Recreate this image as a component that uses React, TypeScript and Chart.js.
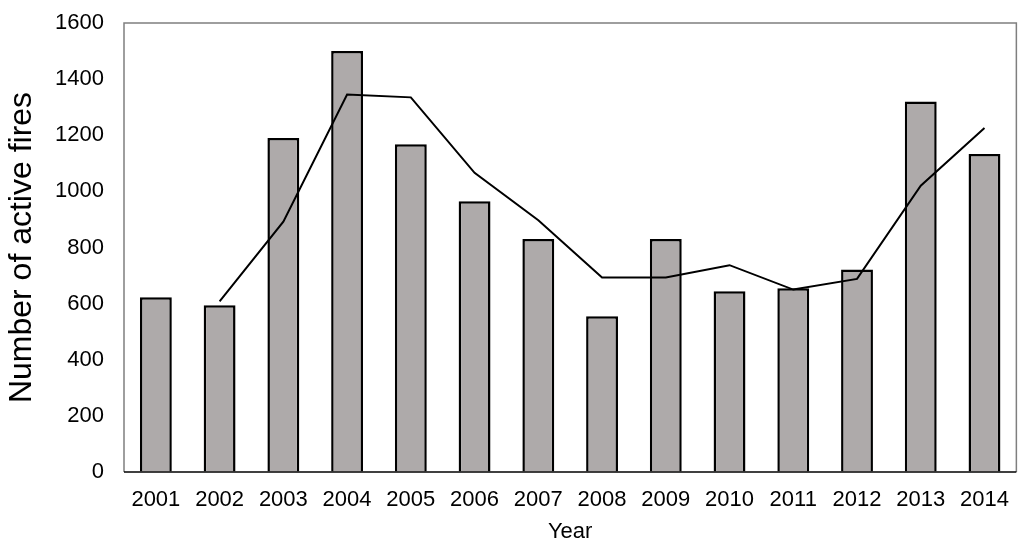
import React, { useEffect, useRef } from "react";
import { Chart, registerables } from "chart.js";

Chart.register(...registerables);

const years = ["2001", "2002", "2003", "2004", "2005", "2006", "2007", "2008", "2009", "2010", "2011", "2012", "2013", "2014"];
const activeFires = [623, 594, 1190, 1500, 1168, 965, 830, 555, 830, 644, 655, 722, 1320, 1133];
const movingAverage = [null, 608, 892, 1345, 1335, 1066, 897, 693, 693, 737, 650, 688, 1020, 1226];
const yTicks = { min: 0, max: 1600, step: 200 };

const FONT = "'Liberation Sans', Arial, sans-serif";

const framePlugin = {
  id: "frame",
  afterDraw(chart: any) {
    const { ctx, chartArea } = chart;
    ctx.save();
    ctx.strokeStyle = "#7f7f7f";
    ctx.lineWidth = 1.5;
    ctx.beginPath();
    ctx.moveTo(chartArea.left, chartArea.bottom);
    ctx.lineTo(chartArea.left, chartArea.top);
    ctx.lineTo(chartArea.right, chartArea.top);
    ctx.lineTo(chartArea.right, chartArea.bottom);
    ctx.stroke();
    ctx.strokeStyle = "#000000";
    ctx.beginPath();
    ctx.moveTo(chartArea.left, chartArea.bottom);
    ctx.lineTo(chartArea.right, chartArea.bottom);
    ctx.stroke();
    ctx.restore();
  },
};

export default function App() {
  const canvasRef = useRef<HTMLCanvasElement | null>(null);

  useEffect(() => {
    if (!canvasRef.current) return;
    const chart = new Chart(canvasRef.current, {
      type: "bar",
      data: {
        labels: years,
        datasets: [
          {
            type: "line",
            label: "Moving average",
            data: movingAverage as any,
            borderColor: "#000000",
            borderWidth: 2,
            pointRadius: 0,
            tension: 0,
            fill: false,
            order: 0,
          },
          {
            type: "bar",
            label: "Active fires",
            data: activeFires,
            backgroundColor: "#aeaaaa",
            borderColor: "#000000",
            borderWidth: 2.5,
            categoryPercentage: 1,
            barPercentage: 0.5,
            order: 1,
          },
        ],
      },
      options: {
        animation: false,
        responsive: true,
        maintainAspectRatio: false,
        layout: { padding: { top: 23, right: 1, left: 0, bottom: 0 } },
        plugins: { legend: { display: false }, tooltip: { enabled: false } },
        scales: {
          x: {
            grid: { display: false, drawTicks: false },
            border: { display: false },
            ticks: { color: "#000000", font: { family: FONT, size: 22 }, padding: 15, maxRotation: 0, autoSkip: false },
            title: { display: true, text: "Year", color: "#000000", font: { family: FONT, size: 22 }, padding: { top: 0, bottom: 7 } },
            afterFit(scale: any) {
              scale.height = 80;
            },
          },
          y: {
            min: yTicks.min,
            max: yTicks.max,
            grid: {
              display: true,
              drawOnChartArea: false,
              drawTicks: true,
              tickLength: 20,
              tickColor: "rgba(0,0,0,0)",
              color: "rgba(0,0,0,0)",
            },
            border: { display: false },
            ticks: {
              stepSize: yTicks.step,
              color: "#000000",
              font: { family: FONT, size: 22 },
              padding: 0,
              callback: (v: any) => String(v),
            },
            title: { display: true, text: "Number of active fires", color: "#000000", font: { family: FONT, size: 32 }, padding: { top: 3, bottom: 0 } },
            afterFit(scale: any) {
              scale.width = 124;
            },
          },
        },
      },
      plugins: [framePlugin],
    });
    return () => chart.destroy();
  }, []);

  return (
    <div style={{ position: "fixed", left: 0, top: 0, width: 1024, height: 552, background: "#ffffff" }}>
      <canvas ref={canvasRef} />
    </div>
  );
}
